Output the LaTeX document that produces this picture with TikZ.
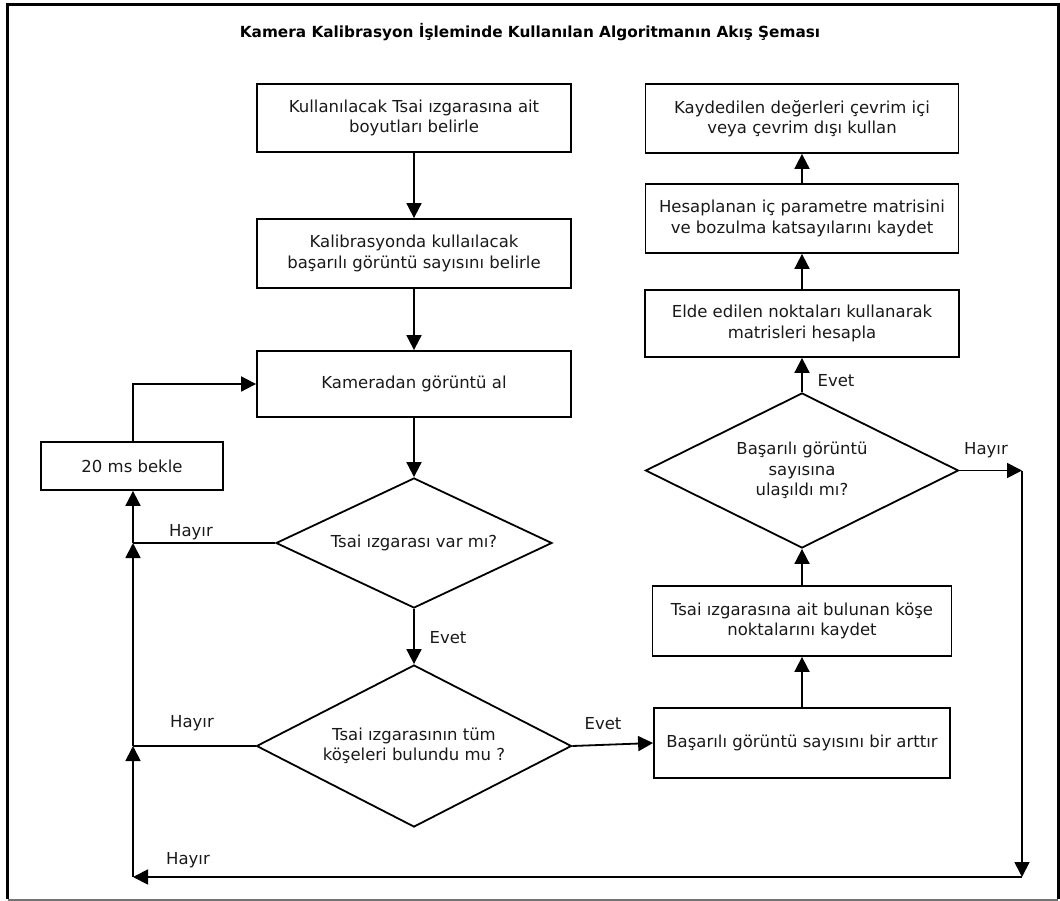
\documentclass[tikz,border=0pt]{standalone}
\usepackage{fontspec}
\setmainfont{DejaVu Sans}
\usetikzlibrary{shapes.geometric,arrows.meta}

\begin{document}
\begin{tikzpicture}[x=1pt,y=-1pt,
  txt/.style={font=\fontsize{16.5}{20.5}\selectfont, align=center, text=black!90},
  procbox/.style={txt, draw, line width=1.8pt, inner sep=0pt},
  decision/.style={txt, draw, diamond, line width=1.8pt, inner sep=0pt},
  flow/.style={line width=1.8pt, -{Triangle[length=15pt,width=15pt]}},
  plain/.style={line width=1.8pt},
  lbl/.style={font=\fontsize{16.5}{20.5}\selectfont, inner sep=0pt, text=black!90},
]
\useasboundingbox (0,0) rectangle (1060,901);

% outer frame
\draw[line width=3pt] (7.5,899) -- (7.5,5) -- (1058,5) -- (1058,899);
\draw[line width=2pt, black!55] (7.5,899.5) -- (1058,899.5);

% title
\node[font=\bfseries\fontsize{15.3}{18}\selectfont] (title) at (530,32)
  {Kamera Kalibrasyon İşleminde Kullanılan Algoritmanın Akış Şeması};

% left column
\node[procbox, minimum width=314, minimum height=68] (b1) at (414,118)
  {Kullanılacak Tsai ızgarasına ait\\boyutları belirle};
\node[procbox, minimum width=314, minimum height=69] (b2) at (414,253.5)
  {Kalibrasyonda kullaılacak\\başarılı görüntü sayısını belirle};
\node[procbox, minimum width=314, minimum height=66] (b3) at (414,384)
  {Kameradan görüntü al};
\node[procbox, minimum width=182, minimum height=48] (wait) at (132,466)
  {20 ms bekle};
\node[decision, minimum width=276, minimum height=130, shape aspect=2.12] (d1) at (414,543)
  {Tsai ızgarası var mı?};
\node[decision, minimum width=315, minimum height=162, shape aspect=1.94] (d2) at (414,746)
  {Tsai ızgarasının tüm\\köşeleri bulundu mu ?};

% right column
\node[procbox, minimum width=296, minimum height=70] (inc) at (802,743)
  {Başarılı görüntü sayısını bir arttır};
\node[procbox, minimum width=299, minimum height=70] (kose) at (802,621)
  {Tsai ızgarasına ait bulunan köşe\\noktalarını kaydet};
\node[decision, minimum width=313, minimum height=155, shape aspect=2.02] (d3) at (802,470.5)
  {Başarılı görüntü\\sayısına\\ulaşıldı mı?};
\node[procbox, minimum width=314, minimum height=67] (elde) at (802,323.5)
  {Elde edilen noktaları kullanarak\\matrisleri hesapla};
\node[procbox, minimum width=313, minimum height=69] (hesap) at (802,218.5)
  {Hesaplanan iç parametre matrisini\\ve bozulma katsayılarını kaydet};
\node[procbox, minimum width=313, minimum height=69] (kayd) at (802,118.5)
  {Kaydedilen değerleri çevrim içi\\veya çevrim dışı kullan};

% loop corners
\coordinate (rc) at (1022,470.5);
\coordinate (rb) at (1022,877);
\coordinate (lb) at (133,877);
\coordinate (lj2) at (133,746);
\coordinate (lj1) at (133,543);

% main flow
\draw[flow] (b1) -- (b2);
\draw[flow] (b2) -- (b3);
\draw[flow] (b3) -- (d1);
\draw[flow] (d1) -- (d2);
\draw[flow] (d2.east) -- (inc.west);
\draw[flow] (inc) -- (kose);
\draw[flow] (kose) -- (d3);
\draw[flow] (d3) -- (elde);
\draw[flow] (elde) -- (hesap);
\draw[flow] (hesap) -- (kayd);

% return paths
\draw[flow] (d3.east) -- (rc);
\draw[flow] (rc) -- (rb);
\draw[flow] (rb) -- (lb);
\draw[flow] (lb) -- (lj2);
\draw[plain] (d2.west) -- (lj2);
\draw[flow] (lj2) -- (lj1);
\draw[plain] (d1.west) -- (lj1);
\draw[flow] (lj1) -- (lj1 |- wait.south);
\draw[flow] (lj1 |- wait.north) |- (b3.west);

% branch labels
\node[lbl] (h1) at (191,532) {Hayır};
\node[lbl] (h2) at (192,723) {Hayır};
\node[lbl] (e1) at (448,638) {Evet};
\node[lbl] (e2) at (603,724) {Evet};
\node[lbl] (e3) at (836,381) {Evet};
\node[lbl] (h3) at (986,450) {Hayır};
\node[lbl] (h4) at (188,860) {Hayır};
\end{tikzpicture}
\end{document}
